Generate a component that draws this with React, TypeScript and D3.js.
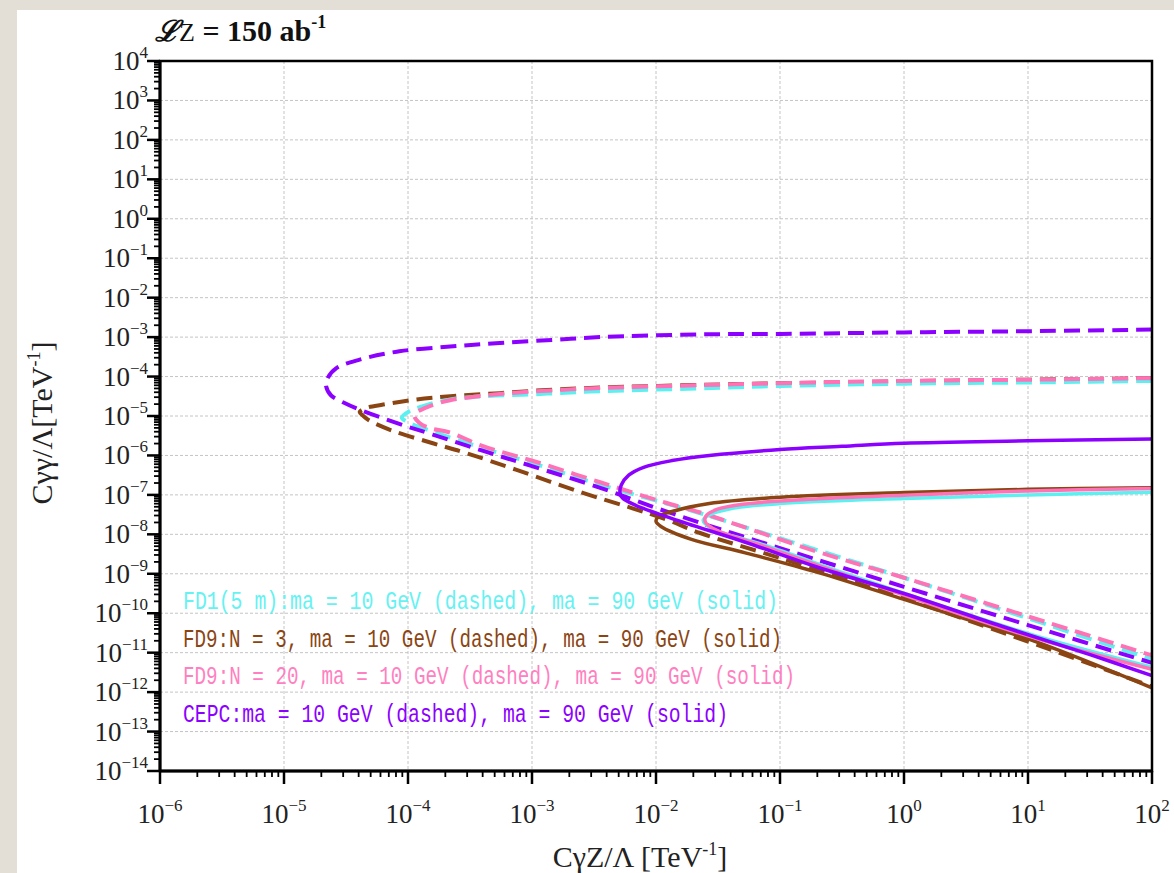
import React from "react";
import * as d3 from "d3";

// Axis decades (exponents)
const X_DECADES = d3.range(-6, 3); // 1e-6 .. 1e2
const Y_DECADES = d3.range(-14, 5); // 1e-14 .. 1e4
const MINOR_MULT = [2, 3, 4, 5, 6, 7, 8, 9];

// Curves: [log10(CγZ/Λ), log10(Cγγ/Λ)]
const CEPC_DASHED: [number, number][] = [
  [2, -2.81], [1, -2.85], [0, -2.88], [-1, -2.92], [-1.65, -2.93], [-2.45, -3.0], [-2.83, -3.07],
  [-3.26, -3.15], [-3.66, -3.24], [-4.07, -3.36], [-4.39, -3.57], [-4.58, -3.79], [-4.65, -4.05],
  [-4.66, -4.25], [-4.62, -4.48], [-4.52, -4.66], [-4.39, -4.84], [-4.07, -5.2], [-3.8, -5.47],
  [-3.4, -5.88], [-3.0, -6.27], [-2.45, -6.82], [-2.0, -7.33], [-1.65, -7.7], [-1, -8.35],
  [0, -9.33], [1, -10.3], [2, -11.26],
];
const FD9N3_DASHED: [number, number][] = [
  [2, -4.04], [1, -4.08], [0, -4.12], [-1, -4.17], [-1.65, -4.21], [-2.45, -4.28], [-2.83, -4.33],
  [-3.26, -4.42], [-3.66, -4.5], [-3.93, -4.58], [-4.2, -4.71], [-4.34, -4.8], [-4.39, -4.9],
  [-4.36, -5.0], [-4.31, -5.12], [-4.12, -5.38], [-3.8, -5.69], [-3.53, -5.94], [-3.13, -6.36],
  [-2.59, -6.95], [-2.19, -7.34], [-1.92, -7.62], [-1.65, -7.96], [-1, -8.6], [0, -9.62],
  [1, -10.72], [2, -11.86],
];
const FD1_DASHED: [number, number][] = [
  [2, -4.11], [1, -4.15], [0, -4.18], [-1, -4.24], [-1.65, -4.3], [-2.53, -4.38], [-2.99, -4.45],
  [-3.4, -4.5], [-3.66, -4.58], [-3.88, -4.75], [-3.99, -4.88], [-4.05, -5.04], [-3.99, -5.17],
  [-3.85, -5.34], [-3.53, -5.68], [-2.99, -6.2], [-2.45, -6.74], [-1.65, -7.46], [-1, -8.1],
  [0, -9.1], [1, -10.13], [2, -11.17],
];
const FD9N20_DASHED: [number, number][] = [
  [2, -4.04], [1, -4.08], [0, -4.11], [-1, -4.17], [-1.65, -4.22], [-2.45, -4.29], [-2.83, -4.35],
  [-3.26, -4.44], [-3.4, -4.49], [-3.66, -4.6], [-3.85, -4.78], [-3.95, -4.98], [-3.91, -5.17],
  [-3.83, -5.3], [-3.66, -5.42], [-3.4, -5.76], [-2.99, -6.14], [-2.45, -6.68], [-1.92, -7.2],
  [-1.65, -7.44], [-0.69, -8.45], [0, -9.1], [1, -10.08], [2, -11.07],
];
const CEPC_SOLID: [number, number][] = [
  [2, -5.58], [1, -5.63], [0, -5.69], [-0.5, -5.77], [-1, -5.85], [-1.57, -6.0], [-1.87, -6.13],
  [-2.1, -6.3], [-2.22, -6.5], [-2.28, -6.75], [-2.29, -6.95], [-2.27, -7.08], [-2.16, -7.27],
  [-1.87, -7.6], [-1.28, -8.2], [-0.69, -8.84], [0, -9.5], [0.79, -10.33], [1.5, -11.05], [2, -11.58],
];
const FD9N3_SOLID: [number, number][] = [
  [2, -6.82], [1, -6.86], [0, -6.94], [-1, -7.06], [-1.57, -7.22], [-1.87, -7.42], [-1.98, -7.55],
  [-2.0, -7.67], [-1.96, -7.8], [-1.72, -8.12], [-1.28, -8.47], [-0.69, -8.97], [0, -9.65],
  [0.5, -10.15], [1.09, -10.75], [2, -11.89],
];
const FD9N20_SOLID: [number, number][] = [
  [2, -6.84], [1, -6.9], [0, -7.01], [-0.69, -7.1], [-1.28, -7.23], [-1.51, -7.37], [-1.6, -7.55],
  [-1.6, -7.7], [-1.51, -7.9], [-1.13, -8.3], [-0.39, -9.12], [0.5, -10.07], [1.09, -10.66], [2, -11.42],
];
const FD1_SOLID: [number, number][] = [
  [2, -6.93], [1, -7.0], [0, -7.09], [-1, -7.22], [-1.4, -7.35], [-1.58, -7.52], [-1.62, -7.65],
  [-1.55, -7.85], [-1.13, -8.27], [-0.39, -9.08], [0.5, -10.02], [1.09, -10.6], [2, -11.37],
];

const LEGEND_LABELS = [
  "FD1(5 m):ma = 10 GeV (dashed), ma = 90 GeV (solid)",
  "FD9:N = 3, ma = 10 GeV (dashed), ma = 90 GeV (solid)",
  "FD9:N = 20, ma = 10 GeV (dashed), ma = 90 GeV (solid)",
  "CEPC:ma = 10 GeV (dashed), ma = 90 GeV (solid)",
];
const LEGEND_WIDTHS = [595, 599, 612, 545];

const CYAN = "#5cf0f0";
const BROWN = "#8b4513";
const PINK = "#ff72b6";
const PURPLE = "#8c00ff";
const LEGEND_COLORS = ["#66f2f2", BROWN, "#ff80c0", PURPLE];

const W = 1174;
const H = 873;
const L = 160, R = 1152, T = 61, B = 771;

export default function App() {
  const x = d3.scaleLog().domain([1e-6, 1e2]).range([L, R]);
  const y = d3.scaleLog().domain([1e-14, 1e4]).range([B, T]);
  const line = d3
    .line<[number, number]>()
    .x((p) => x(Math.pow(10, p[0])))
    .y((p) => y(Math.pow(10, p[1])))
    .curve(d3.curveCatmullRom.alpha(0.5));

  const serif = "'Liberation Serif', 'Times New Roman', serif";

  const xMinor: number[] = [];
  X_DECADES.slice(0, -1).forEach((e) => MINOR_MULT.forEach((m) => xMinor.push(m * Math.pow(10, e))));
  const yMinor: number[] = [];
  Y_DECADES.slice(0, -1).forEach((e) => MINOR_MULT.forEach((m) => yMinor.push(m * Math.pow(10, e))));

  const dashed = [
    { d: FD9N3_DASHED, c: BROWN },
    { d: FD1_DASHED, c: CYAN },
    { d: CEPC_DASHED, c: PURPLE },
    { d: FD9N20_DASHED, c: PINK },
  ];
  const solid = [
    { d: FD1_SOLID, c: CYAN },
    { d: FD9N3_SOLID, c: BROWN },
    { d: FD9N20_SOLID, c: PINK },
    { d: CEPC_SOLID, c: PURPLE },
  ];

  const expLabel = (e: number) => (e < 0 ? "\u2212" + Math.abs(e) : String(e));

  return (
    <div style={{ position: "absolute", left: 0, top: 0 }}>
      <svg width={W} height={H} style={{ display: "block" }}>
        <rect x={0} y={0} width={W} height={H} fill="#e4dfd6" />
        <rect x={17} y={10} width={W - 17} height={H - 10} fill="#ffffff" />

        {/* grid */}
        <g stroke="#c4c4c4" strokeWidth={1} strokeDasharray="3,2">
          {X_DECADES.slice(1, -1).map((e) => (
            <line key={"gx" + e} x1={x(Math.pow(10, e))} x2={x(Math.pow(10, e))} y1={T} y2={B} />
          ))}
          {Y_DECADES.slice(1, -1).map((e) => (
            <line key={"gy" + e} x1={L} x2={R} y1={y(Math.pow(10, e))} y2={y(Math.pow(10, e))} />
          ))}
        </g>

        {/* legend */}
        <g fontFamily="'Liberation Mono', monospace" fontSize={26}>
          {LEGEND_LABELS.map((t, i) => (
            <text
              key={t}
              x={183}
              y={609 + i * 37.5}
              fill={LEGEND_COLORS[i]}
              textLength={LEGEND_WIDTHS[i]}
              lengthAdjust="spacingAndGlyphs"
            >
              {t}
            </text>
          ))}
        </g>

        {/* curves */}
        <g fill="none" strokeLinejoin="round">
          {dashed.map((s, i) => (
            <path key={"d" + i} d={line(s.d) || ""} stroke={s.c} strokeWidth={4} strokeDasharray="16,8" />
          ))}
          {solid.map((s, i) => (
            <path key={"s" + i} d={line(s.d) || ""} stroke={s.c} strokeWidth={3.5} />
          ))}
        </g>

        {/* frame */}
        <rect x={L} y={T} width={R - L} height={B - T} fill="none" stroke="#000" strokeWidth={2.5} />
        <line x1={L} x2={L} y1={T - 1} y2={B + 1} stroke="#000" strokeWidth={3} />
        <line x1={L - 1} x2={R + 1} y1={B} y2={B} stroke="#000" strokeWidth={3} />

        {/* ticks */}
        <g stroke="#000" strokeWidth={2}>
          {Y_DECADES.map((e) => (
            <line key={"ty" + e} x1={L - 13} x2={L} y1={y(Math.pow(10, e))} y2={y(Math.pow(10, e))} strokeWidth={2.5} />
          ))}
          {yMinor.map((v, i) => (
            <line key={"tym" + i} x1={L - 6} x2={L} y1={y(v)} y2={y(v)} strokeWidth={1.8} />
          ))}
          {X_DECADES.map((e) => (
            <line key={"tx" + e} x1={x(Math.pow(10, e))} x2={x(Math.pow(10, e))} y1={B} y2={B + 13} strokeWidth={2.5} />
          ))}
          {xMinor.map((v, i) => (
            <line key={"txm" + i} x1={x(v)} x2={x(v)} y1={B} y2={B + 6} strokeWidth={1.8} />
          ))}
        </g>

        {/* y tick labels */}
        <g fontFamily={serif} fill="#222">
          {Y_DECADES.map((e) => (
            <text key={"ly" + e} x={148} y={y(Math.pow(10, e)) + 9} textAnchor="end" fontSize={27}>
              10
              <tspan dy={-12} fontSize={17}>
                {expLabel(e)}
              </tspan>
            </text>
          ))}
        </g>

        {/* x tick labels */}
        <g fontFamily={serif} fill="#222">
          {X_DECADES.map((e) => (
            <text key={"lx" + e} x={x(Math.pow(10, e))} y={823} textAnchor="middle" fontSize={27}>
              10
              <tspan dy={-12} fontSize={17}>
                {expLabel(e)}
              </tspan>
            </text>
          ))}
        </g>

        {/* axis titles */}
        <text x={640} y={867} textAnchor="middle" fontFamily={serif} fontSize={30} fill="#222">
          CγZ/Λ [TeV
          <tspan dy={-12} fontSize={18}>-1</tspan>
          <tspan dy={12}>]</tspan>
        </text>
        <text
          transform="translate(52,423) rotate(-90)"
          textAnchor="middle"
          fontFamily={serif}
          fontSize={30}
          fill="#222"
        >
          Cγγ/Λ[TeV
          <tspan dy={-12} fontSize={18}>-1</tspan>
          <tspan dy={12}>]</tspan>
        </text>

        {/* title */}
        <text x={155} y={41} fontFamily={serif} fontWeight="bold" fontSize={30} fill="#111">
          <tspan fontFamily="'DejaVu Serif', serif" fontStyle="italic" fontWeight="bold" fontSize={29}>ℒ</tspan>
          <tspan fontWeight="normal" fontSize={26}>Z</tspan>
          {" = 150 ab"}
          <tspan dy={-13} fontSize={18}>-1</tspan>
        </text>
      </svg>
    </div>
  );
}
